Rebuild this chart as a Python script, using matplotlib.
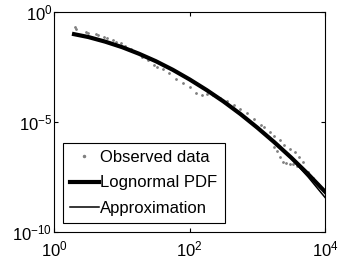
import matplotlib
matplotlib.use("Agg")
import matplotlib.pyplot as plt
import numpy as np
from matplotlib.ticker import FixedLocator, NullLocator

plt.rcParams["font.family"] = ["Liberation Sans", "DejaVu Sans"]
plt.rcParams["mathtext.fontset"] = "custom"
plt.rcParams["mathtext.rm"] = "Liberation Sans"
plt.rcParams["mathtext.it"] = "Liberation Sans"

# log10 of x and y
obs_logx = [0.30, 0.32, 0.47, 0.50, 0.61, 0.65, 0.73, 0.78, 0.86, 0.91,
            0.98, 1.05, 1.13, 1.20, 1.30, 1.38, 1.47, 1.51, 1.60, 1.70,
            1.80, 1.90, 2.00, 2.10, 2.18, 2.25, 2.35, 2.45, 2.55, 2.65,
            2.75, 2.84, 2.95, 3.05, 3.10, 3.18, 3.25, 3.33, 3.40, 3.48,
            3.55, 3.62, 3.68, 3.25, 3.29, 3.33, 3.38, 3.43, 3.48, 3.53,
            3.58, 3.75, 3.82, 3.90, 3.97]
obs_logy = [-0.72, -0.80, -0.92, -0.98, -1.04, -1.08, -1.15, -1.20, -1.30, -1.40,
            -1.45, -1.58, -1.72, -1.82, -2.05, -2.20, -2.43, -2.50, -2.62, -2.80,
            -3.05, -3.26, -3.45, -3.72, -3.80, -3.75, -3.80, -3.95, -4.05, -4.25,
            -4.45, -4.62, -4.90, -5.15, -5.25, -5.48, -5.65, -5.85, -6.05, -6.25,
            -6.40, -6.60, -6.85, -6.15, -6.35, -6.60, -6.85, -6.90, -6.92, -6.95,
            -7.00, -7.30, -7.55, -7.85, -8.10]

curve_logx = [0.29, 0.5, 0.75, 1.0, 1.25, 1.5, 1.75, 2.0, 2.25, 2.5,
              2.75, 3.0, 3.25, 3.5, 3.75, 4.0]
pdf_logy = [-1.03, -1.16, -1.37, -1.62, -1.92, -2.26, -2.65, -3.09, -3.57, -4.09,
            -4.66, -5.28, -5.94, -6.64, -7.39, -8.19]
approx_logy = [-1.03, -1.16, -1.37, -1.62, -1.92, -2.26, -2.65, -3.09, -3.57, -4.09,
               -4.66, -5.28, -5.95, -6.68, -7.52, -8.45]

obs_x = 10.0 ** np.array(obs_logx)
obs_y = 10.0 ** np.array(obs_logy)
curve_x = 10.0 ** np.array(curve_logx)
pdf_y = 10.0 ** np.array(pdf_logy)
approx_y = 10.0 ** np.array(approx_logy)

fig = plt.figure(figsize=(3.38, 2.65), dpi=100)
ax = fig.add_axes([0.161, 0.1264, 0.8005, 0.8302])

ax.plot(obs_x, obs_y, linestyle="none", marker=".", markersize=2,
        color="0.5", label="Observed data")
ax.plot(curve_x, pdf_y, color="black", linewidth=3.0, label="Lognormal PDF")
ax.plot(curve_x, approx_y, color="black", linewidth=1.1, label="Approximation")

ax.set_xscale("log")
ax.set_yscale("log")
ax.set_xlim(1, 1e4)
ax.set_ylim(1e-10, 1)

ax.xaxis.set_major_locator(FixedLocator([1, 1e2, 1e4]))
ax.yaxis.set_major_locator(FixedLocator([1e-10, 1e-5, 1]))
ax.xaxis.set_minor_locator(NullLocator())
ax.yaxis.set_minor_locator(NullLocator())
ax.set_xticklabels([r"$10^{0}$", r"$10^{2}$", r"$10^{4}$"])
ax.set_yticklabels([r"$10^{-10}$", r"$10^{-5}$", r"$10^{0}$"])

ax.tick_params(direction="in", length=3, width=0.8, top=True, right=True,
               labelsize=12)
ax.tick_params(axis="x", pad=6)
ax.tick_params(axis="y", pad=1.5)
for spine in ax.spines.values():
    spine.set_linewidth(0.8)

leg = ax.legend(loc="lower left", fontsize=12, frameon=True, fancybox=False,
                edgecolor="black", framealpha=1, borderaxespad=0.5,
                handlelength=1.7, handletextpad=0.1, labelspacing=0.62,
                borderpad=0.45, numpoints=1, markerscale=1.5)
leg.get_frame().set_linewidth(0.8)

fig.savefig("out.png", dpi=100)
